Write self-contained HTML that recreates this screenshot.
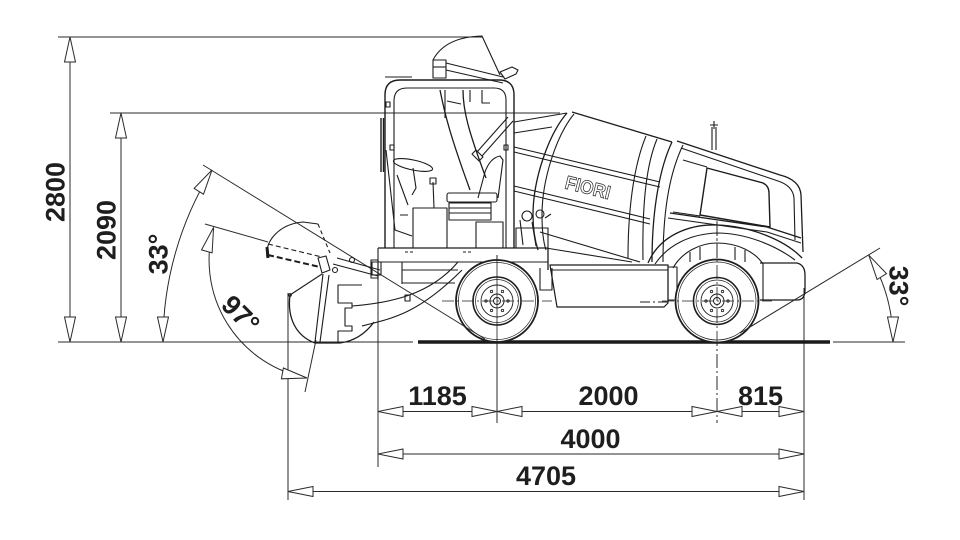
<!DOCTYPE html>
<html><head><meta charset="utf-8">
<style>
html,body{margin:0;padding:0;background:#fff;}
svg{display:block;}
text{font-family:"Liberation Sans",Arial,sans-serif;font-weight:bold;fill:#1e1e1e;}
</style></head><body>
<svg width="960" height="540" viewBox="0 0 960 540" xmlns="http://www.w3.org/2000/svg">
<rect width="960" height="540" fill="#fff"/>

<!-- ===== dimension lines ===== -->
<g fill="none" stroke="#2a2a2a" stroke-width="1">
  <line x1="58" y1="37" x2="482" y2="37"/>
  <line x1="110" y1="113" x2="560" y2="113"/>
  <line x1="58" y1="342" x2="413" y2="342"/>
  <line x1="833" y1="342" x2="905" y2="342"/>
  <line x1="70" y1="37" x2="70" y2="342"/>
  <line x1="121" y1="113" x2="121" y2="342"/>
  <!-- left 33 -->
  <line x1="203" y1="165" x2="485" y2="339"/>
  <path d="M163,342 A327,327 0 0,1 212,170"/>
  <!-- 97 -->
  <line x1="205" y1="224" x2="268" y2="242"/>
  <line x1="316" y1="340" x2="305" y2="392"/>
  <path d="M213.6,227.4 A120,120 0 0,0 307,378"/>
  <!-- right 33 -->
  <line x1="740" y1="333" x2="880" y2="248"/>
  <path d="M893,342 A167,167 0 0,0 868.8,255.2"/>
  <!-- extension lines -->
  <line x1="288" y1="293" x2="288" y2="500"/>
  <line x1="378" y1="262" x2="378" y2="467"/>
  <line x1="804" y1="288" x2="804" y2="500"/>
  <line x1="497" y1="255" x2="497" y2="423"/>
  <line x1="717" y1="222" x2="717" y2="423" stroke-dasharray="14,3,2,3"/>
  <!-- horizontal dims -->
  <line x1="378" y1="411.5" x2="804" y2="411.5"/>
  <line x1="378" y1="454" x2="804" y2="454"/>
  <line x1="288" y1="491.5" x2="804" y2="491.5"/>
</g>

<!-- arrowheads -->
<g fill="#fff" stroke="#2a2a2a" stroke-width="1">
  <polygon points="70,37 64.5,62 75.5,62"/>
  <polygon points="70,342 64.5,317 75.5,317"/>
  <polygon points="121,113 115.5,138 126.5,138"/>
  <polygon points="121,342 115.5,317 126.5,317"/>
  <polygon points="163,342 157.5,317 168.5,317"/>
  <polygon points="212,170 203.5,194.2 194.1,188.4"/>
  <polygon points="213.6,227.4 212.1,252.9 201.5,249.9"/>
  <polygon points="307,378 283.4,368 281.4,378.8"/>
  <polygon points="893,342 887.5,317 898.5,317"/>
  <polygon points="868.8,255.2 886.5,273.7 877.1,279.5"/>

  <polygon points="378,411.5 403,406.5 403,416.5"/>
  <polygon points="497,411.5 472,406.5 472,416.5"/>
  <polygon points="497,411.5 522,406.5 522,416.5"/>
  <polygon points="717,411.5 692,406.5 692,416.5"/>
  <polygon points="717,411.5 742,406.5 742,416.5"/>
  <polygon points="804,411.5 779,406.5 779,416.5"/>
  <polygon points="378,454 403,449 403,459"/>
  <polygon points="804,454 779,449 779,459"/>
  <polygon points="288,491.5 313,486.5 313,496.5"/>
  <polygon points="804,491.5 779,486.5 779,496.5"/>
</g>

<!-- dimension texts -->
<g font-size="27">
  <text transform="translate(55,192) rotate(-90)" x="0" y="9.7" text-anchor="middle">2800</text>
  <text transform="translate(106,230) rotate(-90)" x="0" y="9.7" text-anchor="middle">2090</text>
  <text transform="translate(158,254) rotate(-90)" x="0" y="9.7" text-anchor="middle">33°</text>
  <text transform="translate(899,286) rotate(90)" x="0" y="9.7" text-anchor="middle">33°</text>
  <text transform="translate(241,314) rotate(45)" x="0" y="9.7" text-anchor="middle">97°</text>
  <text x="437.5" y="405" text-anchor="middle">1185</text>
  <text x="608.5" y="405" text-anchor="middle">2000</text>
  <text x="760.5" y="405" text-anchor="middle">815</text>
  <text x="590.5" y="448" text-anchor="middle">4000</text>
  <text x="546" y="485" text-anchor="middle">4705</text>
</g>

<!-- ===== truck ===== -->
<g fill="none" stroke="#1c1c1c" stroke-width="1.1" stroke-linejoin="round">
  <!-- drum & stripes -->
  <line x1="514" y1="147" x2="660" y2="182"/>
  <line x1="514" y1="152" x2="660" y2="187"/>
  <line x1="514" y1="186" x2="650" y2="219"/>
  <line x1="514" y1="191" x2="650" y2="224"/>
  <line x1="514" y1="122" x2="567" y2="113"/>
  <line x1="514" y1="133" x2="552" y2="127"/>
  <line x1="572" y1="112" x2="672" y2="142" stroke-width="1.3"/>
  <path d="M567,113 C548,135 533,180 533,215 C533,232 536,244 538,250" stroke-width="1.3"/>
  <path d="M574,114 C556,136 542,180 542,215 C542,232 544,244 546,250"/>
  <path d="M646,136 C636,160 628,200 628,258"/>
  <path d="M657,139 C647,163 642,200 643,260"/>
  <path d="M672,142 C661,165 652,205 652,262" stroke-width="1.3"/>
  <path d="M683,145 C671,170 663,205 663,262"/>
  <line x1="540" y1="232" x2="640" y2="262"/>
  <line x1="546" y1="248" x2="632" y2="262"/>

  <!-- engine cover -->
  <path d="M677,141 L780,175 Q800,180 801,195 L803,252" stroke-width="1.3"/>
  <path d="M681,148 L778,181 Q793,186 794,198 L795,240"/>
  <path d="M707,168 L763,183 Q769,186 769,193 L770,227 L700,215 Z" stroke-width="1.4"/>
  <path d="M683,160 L707,167"/>
  <path d="M673,212 L700,216"/>
  <path d="M670,213 L767,227 L801,238" stroke-width="1.3"/>
  <path d="M668,218 L767,232 L801,243"/>
  <line x1="712" y1="150" x2="712" y2="127"/>
  <line x1="716" y1="150" x2="716" y2="127"/>
  <path d="M710,125 L718,125 M714,121 L714,129"/>

  <!-- fender -->
  <path d="M648,263 C660,235 690,224 717,225 C750,226 785,240 802,258" stroke-width="1.3"/>
  <path d="M655,264 C668,245 690,234 717,233 C745,233 775,245 795,260"/>
  <path d="M673,268 C682,252 700,243 717,243 C738,243 755,252 763,264"/>
  <path d="M690,252 V262 M700,247 V260 M735,247 V260 M745,250 V262"/>
  <!-- front bumper -->
  <path d="M760,263 H797 Q805,265 805,275 V290 Q805,300 797,300 H760" stroke-width="1.3"/>
  <line x1="763" y1="263" x2="763" y2="300"/>
  <!-- middle chassis -->
  <path d="M550,265 H668 V303 L664,307 H557 Z" stroke-width="1.2"/>
  <line x1="550" y1="270" x2="668" y2="270"/>
  <rect x="668" y="267" width="9" height="33"/>
  <line x1="640" y1="302" x2="668" y2="302" stroke-dasharray="10,3,2,3"/>

  <!-- chassis under cab -->
  <path d="M378,248 H548 V270" stroke-width="1.3"/>
  <line x1="378" y1="262" x2="548" y2="262"/>
  <line x1="378" y1="248" x2="378" y2="280"/>
  <path d="M402,262 V284"/>
  <line x1="402" y1="270" x2="458" y2="270"/>
  <line x1="402" y1="283" x2="455" y2="283"/>
  <rect x="371" y="260" width="7" height="18"/>
  <path d="M540,268 V290 H552 V268"/>
  <rect x="516" y="228" width="32" height="20"/>
  <circle cx="527" cy="216" r="5"/>
  <circle cx="540" cy="214" r="4"/>
  <path d="M520,220 L523,245 M532,222 L536,246 M545,218 L551,214"/>
  <path d="M405,252 h3 M410,252 h3 M463,252 h3 M468,252 h3"/>

  <!-- ROPS -->
  <path d="M385,248 V95 Q385,80 400,80 H499 Q514,80 514,95 V248" stroke-width="1.4"/>
  <path d="M394,248 V101 Q394,88 407,88 H494 Q506,88 506,100 V248"/>
  <line x1="385" y1="77" x2="412" y2="77"/>
  <path d="M381,118 V172 M383.5,118 V172" stroke-width="1.4"/>
  <rect x="386" y="102" width="4" height="5"/>
  <rect x="390" y="145" width="4" height="5"/>
  <rect x="504" y="145" width="4" height="5"/>

  <!-- chute top -->
  <path d="M433,60 Q445,37 482,36 L500,75"/>
  <rect x="433" y="60" width="13" height="18" fill="#fff"/>
  <line x1="433" y1="67" x2="446" y2="67"/>
  <line x1="446" y1="63" x2="503" y2="77"/>
  <line x1="446" y1="70" x2="503" y2="83"/>
  <path d="M500,72 L512,67 L518,70 L516,74 L505,79 Z"/>
  <!-- chute down -->
  <path d="M440,90 C445,115 450,135 470,190" stroke-width="1.3"/>
  <path d="M463,90 C463,110 468,130 486,178" stroke-width="1.3"/>
  <line x1="447" y1="101" x2="461" y2="104"/>
  <path d="M445,90 V118 M470,90 V102 M482,90 V103 H490"/>
  <!-- cylinder -->
  <line x1="508" y1="117" x2="477" y2="152"/>
  <line x1="513" y1="121" x2="482" y2="156"/>
  <path d="M476,150 L483,157 L479,161 L472,154 Z"/>
  <!-- seat -->
  <path d="M478,198 L485,172 Q490,158 500,156 L503,160 L498,198"/>
  <rect x="447" y="193" width="50" height="9" rx="2"/>
  <rect x="449" y="203" width="42" height="17"/>
  <line x1="449" y1="208" x2="491" y2="208"/>
  <line x1="449" y1="213" x2="491" y2="213"/>
  <rect x="476" y="222" width="27" height="26"/>
  <!-- steering & controls -->
  <ellipse cx="413" cy="165" rx="20" ry="5" transform="rotate(12 413 165)"/>
  <path d="M413,168 L416,188 L412,195"/>
  <line x1="433" y1="182" x2="434" y2="208"/>
  <rect x="430" y="178" width="6" height="6"/>
  <rect x="413" y="208" width="34" height="40"/>
  <path d="M386,150 L395,230 L412,236"/>
  <path d="M397,175 L408,205 M400,215 h8"/>

  <!-- loader arm & bucket -->
  <line x1="333" y1="264" x2="378" y2="276"/>
  <line x1="337" y1="258" x2="380" y2="270"/>
  <circle cx="352" cy="260" r="2.5"/>
  <circle cx="335" cy="270" r="2.5"/>
  <rect x="372" y="262" width="9" height="13"/>
  <path d="M267,257 C265,240 280,224 303,222 L318,224"/>
  <path d="M318,224 L330,253" stroke-dasharray="4,3"/>
  <path d="M268,244 L322,257" stroke-dasharray="5,3"/>
  <path d="M268,255 L320,267" stroke-width="2" stroke-dasharray="6,3"/>
  <line x1="267" y1="247" x2="268" y2="258" stroke-width="3"/>
  <path d="M318,258 L326,256 L330,270 L322,273 Z"/>
  <line x1="322" y1="274" x2="290" y2="295"/>
  <circle cx="290" cy="295" r="1.3"/>
  <path d="M290,295 C287,318 296,336 315,343 L340,343 C355,341 366,333 374,322" stroke-width="1.3"/>
  <path d="M362,285 H338 V303 H352 V308 H345 V326 H352 V331 H338 V343"/>
  <line x1="323" y1="274" x2="315" y2="342"/>
  <line x1="329" y1="275" x2="320" y2="342"/>
  <path d="M352,306 C390,303 430,295 458,262"/>
  <path d="M362,326 C395,318 420,312 462,270"/>
  <rect x="405" y="295" width="5" height="6"/>
</g>

<!-- FIORI logo -->
<text transform="translate(588,187) rotate(14)" x="0" y="7" font-size="19" text-anchor="middle" textLength="46" lengthAdjust="spacingAndGlyphs" style="fill:#fff;stroke:#333;stroke-width:0.8">FIORI</text>

<!-- ground -->
<line x1="418" y1="342" x2="830" y2="342" stroke="#1a1a1a" stroke-width="3.5"/>

<!-- wheels -->
<g fill="none" stroke="#1e1e1e">
  <g transform="translate(497,301)">
    <circle r="41" fill="#fff" stroke-width="1.8"/>
    <circle r="38.5" stroke-width="0.7"/>
    <circle r="24" stroke-width="1.6"/>
    <circle r="21.5" stroke-width="0.7"/>
    <circle r="16" stroke-width="0.9"/>
    <circle r="7" stroke-width="1"/>
    <circle r="3.5" stroke-width="1"/>
    <g stroke-width="0.8">
      <circle cx="11" cy="0" r="1.2"/><circle cx="5.5" cy="9.5" r="1.2"/><circle cx="-5.5" cy="9.5" r="1.2"/>
      <circle cx="-11" cy="0" r="1.2"/><circle cx="-5.5" cy="-9.5" r="1.2"/><circle cx="5.5" cy="-9.5" r="1.2"/>
    </g>
    <line x1="-55" y1="0" x2="55" y2="0" stroke-width="0.8" stroke-dasharray="12,3,2,3"/>
    <line x1="0" y1="-46" x2="0" y2="41" stroke-width="0.8"/>
  </g>
  <g transform="translate(717,301)">
    <circle r="41.5" fill="#fff" stroke-width="1.8"/>
    <circle r="39" stroke-width="0.7"/>
    <circle r="23.5" stroke-width="1.6"/>
    <circle r="21" stroke-width="0.7"/>
    <circle r="16" stroke-width="0.9"/>
    <circle r="7" stroke-width="1"/>
    <circle r="3.5" stroke-width="1"/>
    <g stroke-width="0.8">
      <circle cx="11" cy="0" r="1.2"/><circle cx="5.5" cy="9.5" r="1.2"/><circle cx="-5.5" cy="9.5" r="1.2"/>
      <circle cx="-11" cy="0" r="1.2"/><circle cx="-5.5" cy="-9.5" r="1.2"/><circle cx="5.5" cy="-9.5" r="1.2"/>
    </g>
    <line x1="-55" y1="0" x2="55" y2="0" stroke-width="0.8" stroke-dasharray="12,3,2,3"/>
    <line x1="0" y1="-80" x2="0" y2="41" stroke-width="0.8" stroke-dasharray="14,3,2,3"/>
  </g>
</g>
<!-- 33° lines over tires -->
<line x1="740" y1="333" x2="760" y2="321" stroke="#2a2a2a" stroke-width="1"/>
<line x1="463" y1="325.5" x2="485" y2="339" stroke="#2a2a2a" stroke-width="1"/>
</svg>
</body></html>
